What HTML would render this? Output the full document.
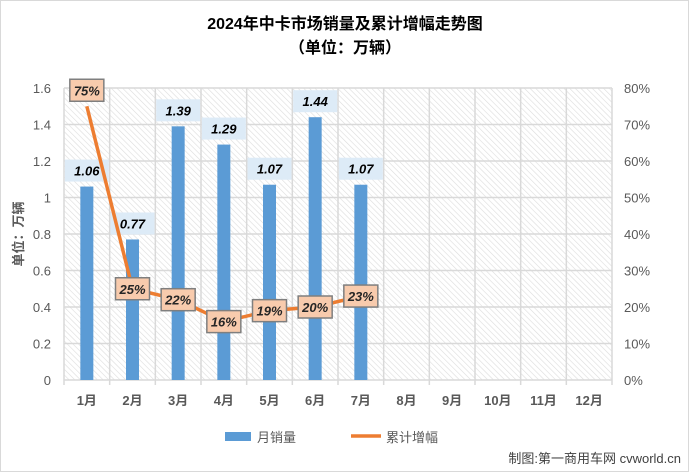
<!DOCTYPE html>
<html><head><meta charset="utf-8">
<style>
body{margin:0;background:#fff;font-family:"Liberation Sans","Noto Sans CJK SC",sans-serif;}
#wrap{position:relative;width:689px;height:472px;box-sizing:border-box;border:1px solid #d9d9d9;background:#fff;}
</style></head>
<body>
<div id="wrap">
<svg id="chart" width="687" height="470" xmlns="http://www.w3.org/2000/svg">
<defs>
<pattern id="hatch" width="4" height="4" patternUnits="userSpaceOnUse" patternTransform="rotate(-45)">
<rect width="4" height="4" fill="#fff"/>
<line x1="0" y1="0" x2="0" y2="4" stroke="#dcdcdc" stroke-width="1.2"/>
</pattern>
</defs>
</svg>
</div>
<script>
const categories=["1月","2月","3月","4月","5月","6月","7月","8月","9月","10月","11月","12月"];
const sales=[1.06,0.77,1.39,1.29,1.07,1.44,1.07];
const growth=[75,25,22,16,19,20,23];
const leftTicks=["0","0.2","0.4","0.6","0.8","1","1.2","1.4","1.6"];
const rightTicks=["0%","10%","20%","30%","40%","50%","60%","70%","80%"];

const svg=document.getElementById('chart');
const NS="http://www.w3.org/2000/svg";
const X0=63,X1=611,Y0=379,Y1=87;
const cw=(X1-X0)/categories.length;
const yL=v=>Y0-(v/1.6)*(Y0-Y1);
const yR=v=>Y0-(v/80)*(Y0-Y1);
const xC=i=>X0+cw*(i+0.5);
function mk(tag,attrs,txt){const e=document.createElementNS(NS,tag);for(const k in attrs)e.setAttribute(k,attrs[k]);if(txt!==undefined)e.textContent=txt;svg.appendChild(e);return e;}

let t=mk('text',{x:344,y:28,'text-anchor':'middle','font-size':16,'font-weight':'bold',fill:'#000'},'2024年中卡市场销量及累计增幅走势图');


t=mk('text',{x:344,y:52,'text-anchor':'middle','font-size':16,'font-weight':'bold',fill:'#000'},'（单位：万辆）');



let bg=mk('rect',{x:X0,y:Y1,width:X1-X0,height:Y0-Y1,fill:'url(#hatch)'});



for(let i=0;i<leftTicks.length;i++){
  const y=yL(i*0.2);
  let g=mk('line',{x1:X0,x2:X1,y1:y,y2:y,stroke:'#d9d9d9','stroke-width':1.5});
  
  
  let l=mk('text',{x:50,y:y+5,'text-anchor':'end','font-size':13,fill:'#595959'},leftTicks[i]);
  
  
  let r=mk('text',{x:623,y:y+5,'font-size':13,fill:'#595959'},rightTicks[i]);
  
  
}
for(let i=0;i<=categories.length;i++){
  const x=X0+cw*i;
  let g=mk('line',{x1:x,x2:x,y1:Y1,y2:Y0+5,stroke:'#d9d9d9','stroke-width':1.5});
  
  
}
categories.forEach((c,i)=>{
  let l=mk('text',{x:xC(i),y:404,'text-anchor':'middle','font-size':13,'font-weight':'bold',fill:'#595959'},c);
  
  
});
let yt=mk('text',{x:22,y:233,'text-anchor':'middle','font-size':13,'font-weight':'bold',fill:'#595959',transform:'rotate(-90 22 233)'},'单位：万辆');



sales.forEach((v,i)=>{
  const x=xC(i),y=yL(v);
  let b=mk('rect',{x:x-6.5,y:y,width:13,height:Y0-y,fill:'#5b9bd5'});
  
  
  let bx=mk('rect',{x:x-22,y:y-27,width:44,height:22,fill:'#ddebf7'});
  
  
  let tx=mk('text',{x:x,y:y-11,'text-anchor':'middle','font-size':13,'font-weight':'bold','font-style':'italic',fill:'#000'},v.toFixed(2));
  
  
});

const pts=growth.map((v,i)=>xC(i)+','+yR(v)).join(' ');
let ln=mk('polyline',{points:pts,fill:'none',stroke:'#ed7d31','stroke-width':3.5,'stroke-linejoin':'round'});


growth.forEach((v,i)=>{
  const x=xC(i);let y=yR(v);
  if(i===0)y-=16;
  let bx=mk('rect',{x:x-17,y:y-11,width:34,height:22,fill:'#f8cbad',stroke:'#7f7f7f','stroke-width':1.5});
  
  
  let tx=mk('text',{x:x,y:y+5,'text-anchor':'middle','font-size':13,'font-weight':'bold','font-style':'italic',fill:'#262626'},v+'%');
  
  
});

let lb=mk('rect',{x:224,y:431,width:26,height:9,fill:'#5b9bd5'});


let lt=mk('text',{x:256,y:441,'font-size':13,fill:'#595959'},'月销量');


let ll=mk('line',{x1:350,x2:380,y1:435,y2:435,stroke:'#ed7d31','stroke-width':3.5});


let lt2=mk('text',{x:385,y:441,'font-size':13,fill:'#595959'},'累计增幅');



let src=mk('text',{x:680,y:462,'text-anchor':'end','font-size':13,fill:'#404040'},'制图:第一商用车网 cvworld.cn');


</script>
</body></html>
